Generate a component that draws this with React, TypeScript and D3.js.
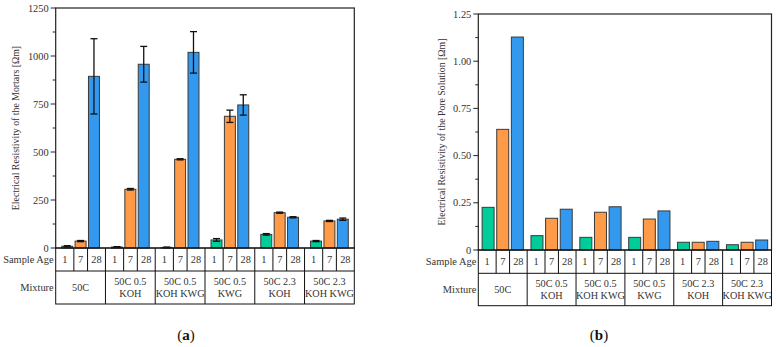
import React from "react";
import * as d3 from "d3";

const mixtures = ["50C", "50C 0.5 KOH", "50C 0.5 KOH KWG", "50C 0.5 KWG", "50C 2.3 KOH", "50C 2.3 KOH KWG"];
const mixtureLines = [["50C"], ["50C 0.5", "KOH"], ["50C 0.5", "KOH KWG"], ["50C 0.5", "KWG"], ["50C 2.3", "KOH"], ["50C 2.3", "KOH KWG"]];
const ages = ["1", "7", "28"];
const ageColors = ["#00CC99", "#FF9A48", "#3399EE"];

// Panel (a): mortar resistivity [Ωm], per mixture: [1d, 7d, 28d]
const mortarValues = [
  [9, 36, 894],
  [5, 306, 957],
  [3, 462, 1019],
  [42, 686, 745],
  [71, 184, 160],
  [36, 141, 150],
];
const mortarErrors = [
  [3, 3, 196],
  [2, 4, 93],
  [2, 3, 108],
  [7, 32, 53],
  [4, 3, 3],
  [3, 3, 6],
];
const mortarTicks = [0, 250, 500, 750, 1000, 1250];

// Panel (b): pore solution resistivity [Ωm]
const poreValues = [
  [0.226, 0.639, 1.128],
  [0.076, 0.168, 0.216],
  [0.067, 0.2, 0.229],
  [0.067, 0.164, 0.207],
  [0.041, 0.041, 0.046],
  [0.028, 0.041, 0.053],
];
const poreTicks = [0, 0.25, 0.5, 0.75, 1.0, 1.25];
const poreTickLabels = ["0", "0.25", "0.50", "0.75", "1.00", "1.25"];

const FONT = "'Liberation Serif', 'DejaVu Serif', serif";
const cellFrac = [0, 0.365, 0.64, 1];

type PanelProps = {
  left: number; right: number; top: number; bottom: number;
  row1: number; row2: number;
  values: number[][]; errors?: number[][];
  ticks: number[]; tickLabels: string[];
  title: string; titleX: number; label: string; labelX: number;
  padInner: number; padOuter: number;
};

function Panel(p: PanelProps) {
  const y = d3.scaleLinear().domain([0, p.ticks[p.ticks.length - 1]]).range([p.bottom, p.top]);
  const gx = d3.scaleBand<string>().domain(mixtures).range([p.left, p.right]).paddingInner(0).paddingOuter(0);
  const inner = d3.scaleBand<string>().domain(ages).range([0, gx.bandwidth()]).paddingInner(p.padInner).paddingOuter(p.padOuter);
  const minor: number[] = [];
  for (let i = 0; i < p.ticks.length - 1; i++) minor.push((p.ticks[i] + p.ticks[i + 1]) / 2);
  const axisColor = "#222";
  return (
    <g fontFamily={FONT} fill="#333">
      {mixtures.map((m, gi) =>
        ages.map((a, ai) => {
          const x0 = (gx(m) as number) + (inner(a) as number);
          const v = p.values[gi][ai];
          return (
            <rect key={m + a} x={x0} y={y(v)} width={inner.bandwidth()} height={p.bottom - y(v)}
              fill={ageColors[ai]} stroke="#3a3a3a" strokeWidth={1} />
          );
        })
      )}
      {p.errors && mixtures.map((m, gi) =>
        ages.map((a, ai) => {
          const cx = (gx(m) as number) + (inner(a) as number) + inner.bandwidth() / 2;
          const v = p.values[gi][ai];
          const e = p.errors![gi][ai];
          const hi = y(v + e), lo = y(v - e);
          return (
            <g key={"e" + m + a} stroke="#111" strokeWidth={1.3}>
              <line x1={cx} x2={cx} y1={hi} y2={lo} />
              <line x1={cx - 3.5} x2={cx + 3.5} y1={hi} y2={hi} />
              <line x1={cx - 3.5} x2={cx + 3.5} y1={lo} y2={lo} />
            </g>
          );
        })
      )}
      <rect x={p.left} y={p.top} width={p.right - p.left} height={p.bottom - p.top} fill="none" stroke={axisColor} strokeWidth={1.2} />
      {p.ticks.map((t, i) => (
        <g key={"t" + i}>
          <line x1={p.left - 5} x2={p.left} y1={y(t)} y2={y(t)} stroke={axisColor} strokeWidth={1} />
          <text x={p.left - 7} y={y(t) + 3.6} textAnchor="end" fontSize={10.4}>{p.tickLabels[i]}</text>
        </g>
      ))}
      {minor.map((t, i) => (
        <line key={"m" + i} x1={p.left - 3} x2={p.left} y1={y(t)} y2={y(t)} stroke={axisColor} strokeWidth={1} />
      ))}
      <text transform={`translate(${p.titleX},${(p.top + p.bottom) / 2}) rotate(-90)`} textAnchor="middle" fontSize={9.8}>{p.title}</text>
      <g stroke="#111" strokeWidth={1} fill="none">
        <rect x={p.left} y={p.bottom} width={p.right - p.left} height={p.row2 - p.bottom} />
        <line x1={p.left} x2={p.right} y1={p.row1} y2={p.row1} />
        {mixtures.map((m, gi) => {
          const gx0 = gx(m) as number;
          const w = gx.bandwidth();
          return (
            <g key={"c" + gi}>
              {gi > 0 && <line x1={gx0} x2={gx0} y1={p.bottom} y2={p.row2} />}
              <line x1={gx0 + w * cellFrac[1]} x2={gx0 + w * cellFrac[1]} y1={p.bottom} y2={p.row1} />
              <line x1={gx0 + w * cellFrac[2]} x2={gx0 + w * cellFrac[2]} y1={p.bottom} y2={p.row1} />
            </g>
          );
        })}
      </g>
      {mixtures.map((m, gi) => {
        const gx0 = gx(m) as number;
        const w = gx.bandwidth();
        const lines = mixtureLines[gi];
        const mid = (p.row1 + p.row2) / 2;
        return (
          <g key={"l" + gi}>
            {ages.map((a, ai) => (
              <text key={a} x={gx0 + w * (cellFrac[ai] + cellFrac[ai + 1]) / 2} y={(p.bottom + p.row1) / 2 + 3.7} textAnchor="middle" fontSize={10.4}>{a}</text>
            ))}
            {lines.map((t, li) => (
              <text key={li} x={gx0 + w / 2} y={mid + 3.6 + (li - (lines.length - 1) / 2) * 11.8} textAnchor="middle" fontSize={10.2}>{t}</text>
            ))}
          </g>
        );
      })}
      <text x={p.left - 2} y={(p.bottom + p.row1) / 2 + 3.7} textAnchor="end" fontSize={10.4}>Sample Age</text>
      <text x={p.left - 2} y={(p.row1 + p.row2) / 2 + 3.6} textAnchor="end" fontSize={10.4}>Mixture</text>
      <text x={p.labelX} y={340} textAnchor="middle" fontSize={15} fill="#111">(<tspan fontWeight="bold">{p.label}</tspan>)</text>
    </g>
  );
}

export default function App() {
  return (
    <svg width={776} height={347} style={{ position: "absolute", left: 0, top: 0, background: "#fff" }}>
      <rect width={776} height={347} fill="#fff" />
      <Panel left={55.7} right={354.3} top={8} bottom={248} row1={271} row2={304}
        values={mortarValues} errors={mortarErrors} ticks={mortarTicks}
        tickLabels={mortarTicks.map(String)} title="Electrical Resistivity of the Mortars [Ωm]" titleX={19}
        label="a" labelX={186} padInner={0.18} padOuter={0.45} />
      <Panel left={478.3} right={771.5} top={14} bottom={250} row1={273.3} row2={305.7}
        values={poreValues} ticks={poreTicks} tickLabels={poreTickLabels}
        title="Electrical Resistivity of the Pore Solution [Ωm]" titleX={445}
        label="b" labelX={599} padInner={0.18} padOuter={0.26} />
    </svg>
  );
}
